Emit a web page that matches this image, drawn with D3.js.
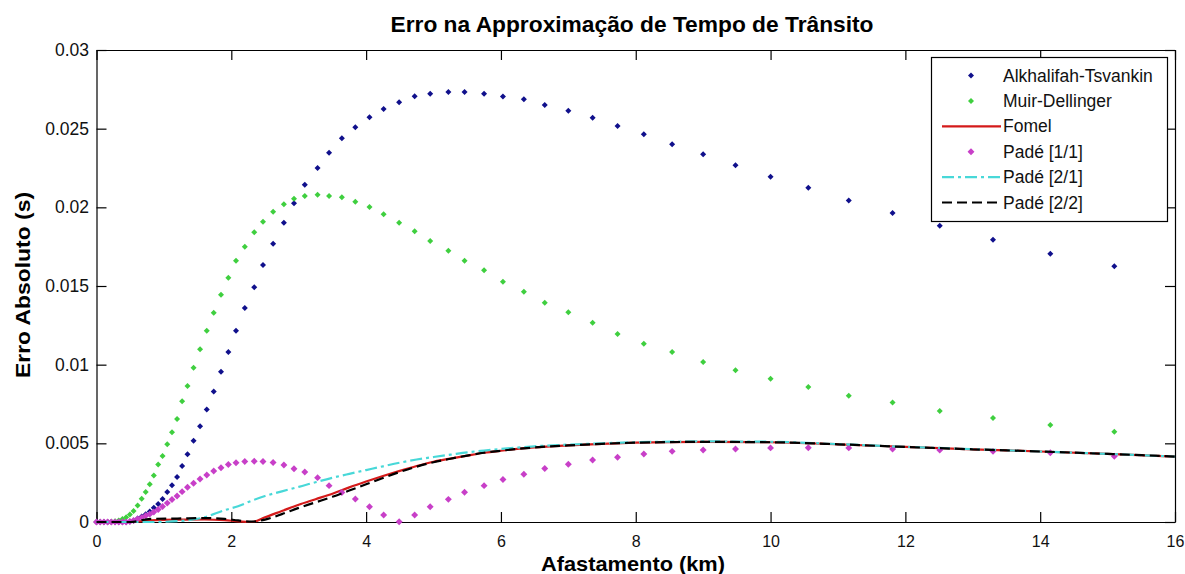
<!DOCTYPE html>
<html>
<head>
<meta charset="utf-8">
<script src="https://cdn.jsdelivr.net/npm/d3@7"></script>
<style>
  html, body { margin: 0; padding: 0; background: #fff; }
  svg { display: block; font-family: Arial, "Liberation Sans", Helvetica, sans-serif; }
</style>
</head>
<body>
<svg id="chart" width="1185" height="574"></svg>
<script>
// offsets (km) where the marker series were sampled
const X_KM = [
  0, 0.055, 0.11, 0.165, 0.22, 0.275, 0.33, 0.385, 0.44, 0.495,
  0.55, 0.61, 0.67, 0.73, 0.79, 0.85, 0.915, 0.98, 1.05, 1.12,
  1.195, 1.27, 1.35, 1.44, 1.536, 1.636, 1.739, 1.847, 1.956, 2.07,
  2.20, 2.34, 2.47, 2.62, 2.78, 2.93, 3.09, 3.28, 3.45, 3.64,
  3.84, 4.05, 4.26, 4.49, 4.72, 4.95, 5.22, 5.46, 5.75, 6.03,
  6.34, 6.65, 7.0, 7.36, 7.73, 8.12, 8.54, 9.0, 9.48, 10.0,
  10.56, 11.16, 11.81, 12.51, 13.3, 14.15, 15.1
];

const ALKHALIFAH = [
  0, 0, 0, 0, 0, 0, 0, 0, 0, 0.00003,
  0.00008, 0.00022, 0.00035, 0.0005, 0.00067, 0.0009, 0.00115, 0.00146, 0.0019, 0.00233,
  0.00286, 0.00356, 0.0043, 0.00517, 0.00608, 0.00715, 0.00829, 0.00955, 0.01081, 0.01215,
  0.0136, 0.01492, 0.01633, 0.01769, 0.01902, 0.02026, 0.02144, 0.0225, 0.02347, 0.02439,
  0.02509, 0.02572, 0.02625, 0.02668, 0.02706, 0.02722, 0.02733, 0.02733, 0.02722, 0.02705,
  0.02687, 0.02651, 0.02614, 0.0257, 0.02517, 0.02464, 0.02401, 0.02337, 0.02267, 0.02195,
  0.02125, 0.02044, 0.01964, 0.01883, 0.01794, 0.01705, 0.01625
];

const MUIR = [
  0, 0, 0, 0, 0.00002, 0.00005, 0.0001, 0.00019, 0.0003, 0.00047,
  0.0007, 0.00105, 0.00148, 0.0019, 0.0024, 0.00295, 0.00365, 0.0042, 0.00494, 0.0057,
  0.00655, 0.00767, 0.00864, 0.00981, 0.01098, 0.01216, 0.0133, 0.01445, 0.01553, 0.01661,
  0.0175, 0.01841, 0.01909, 0.01972, 0.02019, 0.02055, 0.02072, 0.0208, 0.02072, 0.02064,
  0.02036, 0.02002, 0.01956, 0.01902, 0.01848, 0.01786, 0.01724, 0.01661, 0.016, 0.01527,
  0.01464, 0.01394, 0.01333, 0.01267, 0.01195, 0.01133, 0.01081, 0.01017, 0.00964, 0.00911,
  0.00858, 0.00803, 0.0076, 0.00706, 0.00661, 0.00617, 0.00573
];

const PADE11 = [
  0, 0, 0, 0, 0, 0, 0, 0, 0, 0.00003,
  0.0001, 0.0002, 0.00028, 0.0004, 0.0005, 0.00063, 0.0008, 0.00098, 0.0012, 0.00143,
  0.00165, 0.00193, 0.00221, 0.00246, 0.00273, 0.00299, 0.00324, 0.00345, 0.00365, 0.00377,
  0.00385, 0.00386, 0.00385, 0.00378, 0.00362, 0.00339, 0.00318, 0.00282, 0.00231, 0.00188,
  0.00146, 0.00097, 0.00044, 0.00002, 0.00044, 0.00097, 0.00144, 0.00189, 0.00231, 0.0027,
  0.00304, 0.0034, 0.00367, 0.00394, 0.00411, 0.00432, 0.00449, 0.00458, 0.00464, 0.00471,
  0.00472, 0.00471, 0.00464, 0.00458, 0.00449, 0.0044, 0.00418
];

// offsets (km) for the continuous curves
const LINE_X = [
  0, 0.5, 0.8, 1.2, 1.6, 1.9, 2.1, 2.3, 2.5, 2.75,
  3.0, 3.25, 3.5, 3.75, 4.0, 4.25, 4.5, 4.75, 5.0, 5.25,
  5.5, 5.75, 6.0, 6.5, 7.0, 7.5, 8.0, 9.0, 10.0, 11.0,
  12.0, 13.0, 14.0, 15.0, 16.0
];

const FOMEL = [
  0, 0, 0.0001, 0.00015, 0.00016, 0.00012, 0.00004, 0, 0.0003, 0.0007,
  0.0011, 0.00145, 0.0018, 0.0022, 0.00257, 0.00292, 0.00325, 0.00356, 0.00383, 0.00403,
  0.00422, 0.0044, 0.00453, 0.00474, 0.00487, 0.00497, 0.00504, 0.00509, 0.00507, 0.00494,
  0.00477, 0.00462, 0.00448, 0.00433, 0.00416
];

const PADE21 = [
  0, 0, 0, 0.00005, 0.0003, 0.00075, 0.001, 0.00135, 0.00165, 0.00195,
  0.00223, 0.00253, 0.00281, 0.00306, 0.0033, 0.00354, 0.00377, 0.00397, 0.00413, 0.00428,
  0.00443, 0.00454, 0.00464, 0.00481, 0.00492, 0.005, 0.00507, 0.00512, 0.0051, 0.00495,
  0.00478, 0.00463, 0.00448, 0.00433, 0.00416
];

const PADE22 = [
  0, 0, 0.0002, 0.00022, 0.00025, 0.0002, 0.0001, 0.00002, 0.00015, 0.0005,
  0.0009, 0.00125, 0.0016, 0.002, 0.0024, 0.0028, 0.00318, 0.00352, 0.0038, 0.00402,
  0.00422, 0.0044, 0.00453, 0.00474, 0.00487, 0.00497, 0.00504, 0.00509, 0.00507, 0.00494,
  0.00477, 0.00462, 0.00448, 0.00433, 0.00416
];

const X_TICKS = [0, 2, 4, 6, 8, 10, 12, 14, 16];
const Y_TICKS = [0, 0.005, 0.01, 0.015, 0.02, 0.025, 0.03];

const TITLE = "Erro na Approximação de Tempo de Trânsito";
const X_LABEL = "Afastamento (km)";
const Y_LABEL = "Erro Absoluto (s)";

const SERIES = [
  { name: "Alkhalifah-Tsvankin", kind: "dots", x: X_KM, y: ALKHALIFAH, color: "#10108c", size: 18 },
  { name: "Muir-Dellinger",      kind: "dots", x: X_KM, y: MUIR,       color: "#3fcf3f", size: 18 },
  { name: "Fomel",               kind: "line", x: LINE_X, y: FOMEL,    color: "#d41a1a", dash: null },
  { name: "Padé [1/1]",          kind: "dots", x: X_KM, y: PADE11,     color: "#c83fc8", size: 24 },
  { name: "Padé [2/1]",          kind: "line", x: LINE_X, y: PADE21,   color: "#48d8d8", dash: "12,4,3,4" },
  { name: "Padé [2/2]",          kind: "line", x: LINE_X, y: PADE22,   color: "#000000", dash: "10,5" }
];

const PLOT_L = 96.5, PLOT_R = 1175, PLOT_T = 50, PLOT_B = 522;

const svg = d3.select("#chart");

const x = d3.scaleLinear().domain([0, 16]).range([PLOT_L, PLOT_R]);
const y = d3.scaleLinear().domain([0, 0.03]).range([PLOT_B, PLOT_T]);

const fmtY = d => d === 0 ? "0" : String(+d.toFixed(3));

// plot box
svg.append("rect")
  .attr("x", PLOT_L).attr("y", PLOT_T)
  .attr("width", PLOT_R - PLOT_L).attr("height", PLOT_B - PLOT_T)
  .attr("fill", "#fff");

// axes with inward ticks on all four sides
svg.append("g")
  .attr("transform", `translate(0,${PLOT_B})`)
  .call(d3.axisBottom(x).tickValues(X_TICKS).tickSize(-10).tickPadding(14).tickSizeOuter(0))
  .call(g => g.selectAll("text").attr("font-size", 16).attr("fill", "#111"));

svg.append("g")
  .attr("transform", `translate(0,${PLOT_T})`)
  .call(d3.axisTop(x).tickValues(X_TICKS).tickSize(-10).tickFormat("").tickSizeOuter(0));

svg.append("g")
  .attr("transform", `translate(${PLOT_L},0)`)
  .call(d3.axisLeft(y).tickValues(Y_TICKS).tickFormat(fmtY).tickSize(-10).tickPadding(7.5).tickSizeOuter(0))
  .call(g => g.selectAll("text").attr("font-size", 17.5).attr("fill", "#111"));

svg.append("g")
  .attr("transform", `translate(${PLOT_R},0)`)
  .call(d3.axisRight(y).tickValues(Y_TICKS).tickSize(-10).tickFormat("").tickSizeOuter(0));

svg.selectAll(".domain").attr("stroke", "#000").attr("stroke-width", 1.2);
svg.selectAll(".tick line").attr("stroke", "#000").attr("stroke-width", 1.2);

const diamond = d3.symbol().type(d3.symbolSquare);

function drawSeries(s) {
  const pts = s.x.map((v, i) => [v, s.y[i]]);
  if (s.kind === "dots") {
    svg.append("g")
      .selectAll("path")
      .data(pts)
      .join("path")
      .attr("d", diamond.size(s.size)())
      .attr("transform", d => `translate(${x(d[0])},${y(d[1])}) rotate(45)`)
      .attr("fill", s.color);
  } else {
    const line = d3.line()
      .x(d => x(d[0]))
      .y(d => y(d[1]))
      .curve(d3.curveMonotoneX);
    svg.append("path")
      .datum(pts)
      .attr("d", line)
      .attr("fill", "none")
      .attr("stroke", s.color)
      .attr("stroke-width", 2.2)
      .attr("stroke-dasharray", s.dash);
  }
}

SERIES.forEach(drawSeries);

// legend
const lg = svg.append("g");
lg.append("rect")
  .attr("x", 931.5).attr("y", 57.5)
  .attr("width", 236).attr("height", 164)
  .attr("fill", "#fff").attr("stroke", "#000").attr("stroke-width", 1.2);

SERIES.forEach((s, i) => {
  const cy = 75.5 + i * 25.4;
  if (s.kind === "dots") {
    lg.append("path")
      .attr("d", diamond.size(s.size)())
      .attr("transform", `translate(971,${cy}) rotate(45)`)
      .attr("fill", s.color);
  } else {
    lg.append("line")
      .attr("x1", 942).attr("x2", 1001)
      .attr("y1", cy).attr("y2", cy)
      .attr("stroke", s.color).attr("stroke-width", 2.2)
      .attr("stroke-dasharray", s.dash);
  }
  lg.append("text")
    .attr("x", 1003).attr("y", cy + 6)
    .attr("font-size", 17.5)
    .attr("fill", "#111")
    .text(s.name);
});

// title and axis labels
svg.append("text")
  .attr("x", 632).attr("y", 32)
  .attr("text-anchor", "middle")
  .attr("font-size", 22).attr("font-weight", "bold")
  .attr("textLength", 483).attr("lengthAdjust", "spacingAndGlyphs")
  .text(TITLE);

svg.append("text")
  .attr("x", 633).attr("y", 571)
  .attr("text-anchor", "middle")
  .attr("font-size", 21).attr("font-weight", "bold")
  .attr("textLength", 184).attr("lengthAdjust", "spacingAndGlyphs")
  .text(X_LABEL);

svg.append("text")
  .attr("transform", "translate(30,285) rotate(-90)")
  .attr("text-anchor", "middle")
  .attr("font-size", 21).attr("font-weight", "bold")
  .attr("textLength", 186).attr("lengthAdjust", "spacingAndGlyphs")
  .text(Y_LABEL);
</script>
</body>
</html>
